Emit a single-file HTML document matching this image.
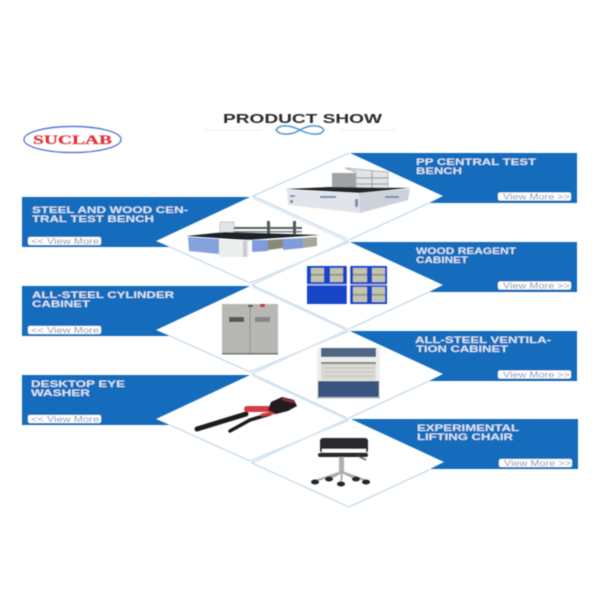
<!DOCTYPE html>
<html><head><meta charset="utf-8"><style>
html,body{margin:0;padding:0;background:#fff}
svg{display:block}
text{font-family:"Liberation Sans",sans-serif}
.h{font-weight:bold;font-size:9.2px;fill:#d9e6f4}
.v{font-size:8px;fill:#7f92ad}
</style></head><body>
<svg width="600" height="600" viewBox="0 0 600 600" xmlns="http://www.w3.org/2000/svg">
<defs><filter id="b" x="-5%" y="-5%" width="110%" height="110%"><feGaussianBlur stdDeviation="0.5"/></filter></defs>
<rect width="600" height="600" fill="#fff"/>
<g filter="url(#b)">
<!-- title -->
<text x="223" y="123" font-size="12.5" font-weight="bold" fill="#2c2c2c" textLength="159" lengthAdjust="spacingAndGlyphs">PRODUCT SHOW</text>
<line x1="205" y1="130" x2="262" y2="130" stroke="#eee" stroke-width="1"/>
<line x1="340" y1="130" x2="396" y2="130" stroke="#eee" stroke-width="1"/>
<path d="M276 130c3-6 14-5 24 0s21 6 24 0c-3-5-14-6-24 0s-21 5-24 0z" fill="none" stroke="#4d94c8" stroke-width="1.400"/>
<!-- logo -->
<ellipse cx="72.500" cy="139.500" rx="48.500" ry="13" fill="#fff" stroke="#4a6fd8" stroke-width="1.400"/>
<text x="33" y="144" style="font-family:'Liberation Serif',serif;stroke:#e0303f;stroke-width:.5" font-size="13" font-weight="bold" fill="#e0303f" textLength="79" lengthAdjust="spacingAndGlyphs">SUCLAB</text>

<!-- lattice -->
<g fill="none" stroke="#c8dcec" stroke-width="1.400">
<path d="M349 153L253 196L347 239"/><path d="M429 203L349 240L252 285L347 329"/>
<path d="M429 292L349 329L252 374L347 418"/><path d="M429 381L349 418L252 463L349 507L429 470"/>
<path d="M170 247L250 283L349 242"/><path d="M170 336L250 372L349 331"/><path d="M170 425L250 461L349 420"/>
<path d="M253 198L346 241M253 287L346 330M253 376L346 419M350 240L255 283M350 329L255 372M350 418L255 461" stroke="#dbe7f1"/>
</g>

<!-- banners -->
<g fill="#136cbc">
<polygon points="350,153 577,153 577,203 429,203 443,196"/>
<polygon points="350,242 577,242 577,292 429,292 443,285"/>
<polygon points="350,331 577,331 577,381 429,381 443,374"/>
<polygon points="351,419 578,419 578,469 430,469 444,462"/>
<polygon points="22,197 250,197 156,241 170,247 22,247"/>
<polygon points="22,286 250,286 156,330 170,336 22,336"/>
<polygon points="22,375 250,375 156,419 170,425 22,425"/>
</g>

<!-- banner text -->
<text class="h" x="416" y="165" textLength="120" lengthAdjust="spacingAndGlyphs">PP CENTRAL TEST</text>
<text class="h" x="416" y="174" textLength="46" lengthAdjust="spacingAndGlyphs">BENCH</text>
<text class="h" x="416" y="254" textLength="100" lengthAdjust="spacingAndGlyphs">WOOD REAGENT</text>
<text class="h" x="416" y="263" textLength="52" lengthAdjust="spacingAndGlyphs">CABINET</text>
<text class="h" x="415" y="343" textLength="136" lengthAdjust="spacingAndGlyphs">ALL-STEEL VENTILA-</text>
<text class="h" x="416" y="352" textLength="92" lengthAdjust="spacingAndGlyphs">TION CABINET</text>
<text class="h" x="417" y="431" textLength="102" lengthAdjust="spacingAndGlyphs">EXPERIMENTAL</text>
<text class="h" x="417" y="440" textLength="96" lengthAdjust="spacingAndGlyphs">LIFTING CHAIR</text>
<text class="h" x="32" y="213" textLength="156" lengthAdjust="spacingAndGlyphs">STEEL AND WOOD CEN-</text>
<text class="h" x="32" y="222" textLength="122" lengthAdjust="spacingAndGlyphs">TRAL TEST BENCH</text>
<text class="h" x="32" y="298" textLength="142" lengthAdjust="spacingAndGlyphs">ALL-STEEL CYLINDER</text>
<text class="h" x="32" y="307" textLength="58" lengthAdjust="spacingAndGlyphs">CABINET</text>
<text class="h" x="31" y="387" textLength="94" lengthAdjust="spacingAndGlyphs">DESKTOP EYE</text>
<text class="h" x="31" y="396" textLength="59" lengthAdjust="spacingAndGlyphs">WASHER</text>

<!-- buttons -->
<g fill="#fff">
<rect x="498" y="192.500" width="73" height="8" rx="2"/><rect x="498" y="281.500" width="73" height="8" rx="2"/>
<rect x="498" y="370.500" width="73" height="8" rx="2"/><rect x="499" y="459" width="73" height="8" rx="2"/>
<rect x="28" y="237" width="73" height="8" rx="2"/><rect x="28" y="326" width="73" height="8" rx="2"/><rect x="28" y="415" width="73" height="8" rx="2"/>
</g>
<text class="v" x="503" y="199.500" textLength="67" lengthAdjust="spacingAndGlyphs">View More &gt;&gt;</text>
<text class="v" x="503" y="288.500" textLength="67" lengthAdjust="spacingAndGlyphs">View More &gt;&gt;</text>
<text class="v" x="503" y="377.500" textLength="67" lengthAdjust="spacingAndGlyphs">View More &gt;&gt;</text>
<text class="v" x="504" y="466" textLength="67" lengthAdjust="spacingAndGlyphs">View More &gt;&gt;</text>
<text class="v" x="31" y="244" textLength="68" lengthAdjust="spacingAndGlyphs">&lt;&lt; View More</text>
<text class="v" x="31" y="333" textLength="68" lengthAdjust="spacingAndGlyphs">&lt;&lt; View More</text>
<text class="v" x="31" y="422" textLength="68" lengthAdjust="spacingAndGlyphs">&lt;&lt; View More</text>

<!-- PP bench -->
<rect x="332" y="173" width="24" height="16" fill="#9ea3a7"/>
<path d="M345 168L388 172V189H356V172z" fill="#e2e5e6" stroke="#aeb3b5" stroke-width="1"/>
<path d="M356 178H388M356 184H388M372 171V189" stroke="#a0a5a8" stroke-width="1.200"/>
<polygon points="285,189 330,187 410,188 360,193" fill="#23282c"/>
<polygon points="287,190 359,193 360,213 288,205" fill="#e1e4ea"/>
<polygon points="359,193 410,189 408,200 360,213" fill="#ccd2da"/>
<g fill="#7490b4"><rect x="290" y="195" width="5" height="2"/><rect x="320" y="196" width="16" height="2"/><rect x="355" y="199" width="3" height="8"/><rect x="385" y="196" width="14" height="2"/><rect x="290" y="200" width="3" height="3"/></g>

<!-- steel & wood bench -->
<rect x="220" y="222" width="14" height="13" fill="#e4e6e6" stroke="#c5c8c8"/>
<rect x="234" y="227" width="68" height="2" fill="#555e5e"/><rect x="234" y="231" width="68" height="1.500" fill="#7a8484"/>
<rect x="267" y="221" width="3" height="13" fill="#4e5a5c"/><rect x="293" y="221" width="3" height="13" fill="#4e5a5c"/>
<polygon points="186,236 225,232 320,235 247,240" fill="#1e2226"/>
<polygon points="188,237 219,239 219,254 189,251" fill="#86a2dc"/>
<rect x="219" y="240" width="30" height="17" fill="#eceeee"/>
<rect x="243" y="241" width="4" height="16" fill="#c9cdcd"/>
<polygon points="252,240 268,240 268,251 252,252" fill="#7f9ddc"/>
<polygon points="268,240 283,239 283,248 268,250" fill="#8a8878"/>
<polygon points="283,239 303,238 303,248 283,250" fill="#7f9ddc"/>
<polygon points="303,238 317,237 317,246 303,248" fill="#a5a79f"/>

<!-- reagent cabinets -->
<rect x="307" y="266" width="40" height="38" fill="#1844c8"/>
<rect x="350" y="266" width="37" height="38" fill="#1844c8"/>
<rect x="307" y="284" width="40" height="1.500" fill="#a8bbe8"/><rect x="350" y="284" width="37" height="1.500" fill="#a8bbe8"/>
<g fill="#c2c3ae"><rect x="311" y="268" width="13" height="14"/><rect x="330" y="268" width="13" height="14"/><rect x="353" y="268" width="14" height="14"/><rect x="372" y="268" width="13" height="14"/><rect x="353" y="287" width="14" height="15"/><rect x="372" y="287" width="13" height="15"/></g>
<g fill="#8a8c80"><rect x="311" y="274" width="13" height="1.500"/><rect x="330" y="274" width="13" height="1.500"/><rect x="353" y="274" width="14" height="1.500"/><rect x="372" y="274" width="13" height="1.500"/><rect x="353" y="294" width="14" height="1.500"/><rect x="372" y="294" width="13" height="1.500"/></g>
<rect x="347" y="266" width="3" height="39" fill="#fff"/>

<!-- cylinder cabinet -->
<rect x="222" y="304" width="56" height="50" fill="#b7b8b3"/>
<rect x="249.500" y="304" width="1" height="50" fill="#8e8f8b"/>
<rect x="229" y="317" width="15" height="5" fill="#55565a"/><rect x="255" y="317" width="15" height="5" fill="#85878a"/>
<rect x="248" y="305" width="5" height="2" fill="#555"/><rect x="260" y="304" width="5" height="3" fill="#c8353a"/>
<rect x="222" y="353" width="56" height="1.500" fill="#6d6e6c"/>

<!-- fume hood -->
<rect x="317" y="348" width="63" height="50" fill="#eceeec"/>
<rect x="321" y="348" width="55" height="9" fill="#516684"/>
<rect x="321" y="364" width="55" height="16" fill="#d9dad2"/>
<rect x="321" y="362" width="55" height="2" fill="#7f8384"/>
<path d="M324 368H374M324 372H374M324 376H374" stroke="#c3c4bc" stroke-width="1"/>
<rect x="318" y="381" width="61" height="16" fill="#375482"/>
<rect x="317" y="397" width="63" height="1.500" fill="#b6b9bb"/>

<!-- eye washer -->
<g fill="none" stroke-linecap="round">
<path d="M197 429L246 414" stroke="#1c1a1c" stroke-width="5"/>
<path d="M230 431L250 420L270 414" stroke="#1c1a1c" stroke-width="3.500"/>
<path d="M247 409L275 409" stroke="#d63a42" stroke-width="6"/>
<path d="M262 415L278 412" stroke="#d63a42" stroke-width="3"/>
</g>
<path d="M268 410L271 402L282 397L294 400L297 406L288 411L276 414z" fill="#231f22"/>
<path d="M282 399L294 402" stroke="#b03038" stroke-width="1.500"/>

<!-- chair -->
<rect x="320" y="438" width="48" height="15" rx="3" fill="#2a2b2e"/>
<rect x="322" y="449" width="44" height="3.500" fill="#fff"/>
<rect x="318" y="453" width="50" height="4" rx="2" fill="#2a2b2e"/>
<rect x="339" y="457" width="5" height="15" fill="#aeb2b4"/>
<path d="M342 472L315 481M342 472L329 479M342 472L341 484M342 472L356 479M342 472L367 481" stroke="#a8acae" stroke-width="2" fill="none"/>
<g fill="#24262a"><ellipse cx="315" cy="482" rx="4" ry="2.500"/><ellipse cx="329" cy="479" rx="4" ry="2.500"/><ellipse cx="341" cy="484" rx="4" ry="2.500"/><ellipse cx="356" cy="479" rx="4" ry="2.500"/><ellipse cx="366" cy="482" rx="4" ry="2.500"/></g>
<path d="M358 456L366 460" stroke="#555" stroke-width="1.500"/>
</g>
</svg>
</body></html>
